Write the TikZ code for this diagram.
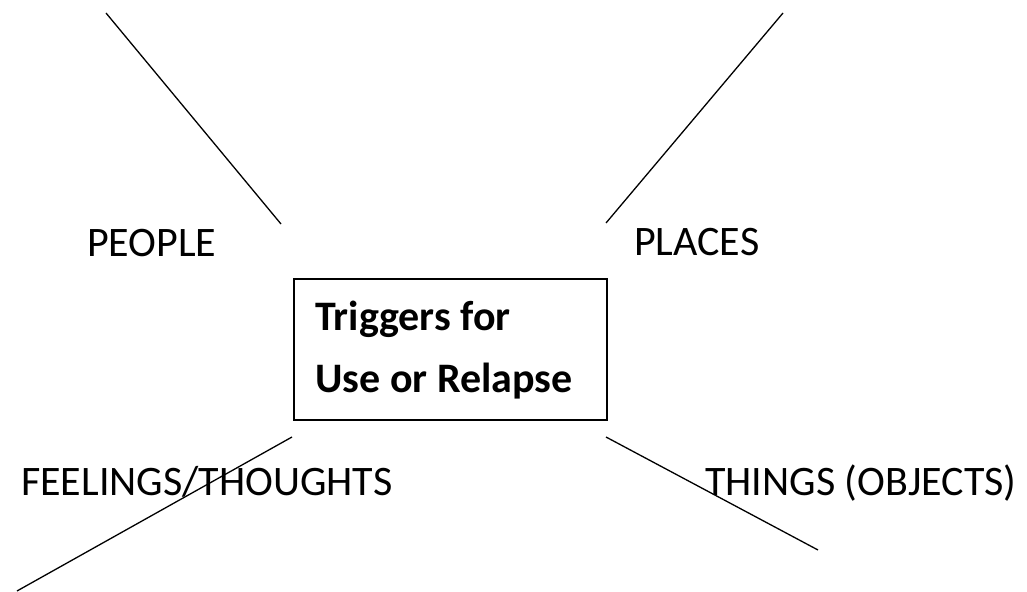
\documentclass[tikz,border=0pt]{standalone}
\usepackage{fontspec}
\setmainfont{Carlito}
\begin{document}
\begin{tikzpicture}[x=1bp,y=-1bp,
  lbl/.style={anchor=base west,inner sep=0pt,font=\fontsize{42bp}{50bp}\selectfont},
  ttl/.style={lbl,font=\fontsize{42bp}{50bp}\selectfont\bfseries},
  ray/.style={line width=1.3bp,black},
  boxstyle/.style={draw,line width=1.6bp,anchor=north west,minimum width=313bp,minimum height=141bp,inner sep=0pt}]
\useasboundingbox (0,0) rectangle (1027,592);
% central box
\node[boxstyle] (box) at (293,278) {};
\node[ttl] (t1) at (315,330) {Triggers for};
\node[ttl] (t2) at (315,392) {Use or Relapse};
% labels
\node[lbl] (people) at (87,257) {PEOPLE};
\node[lbl] (places) at (634,256) {PLACES};
\node[lbl] (feel) at (21,495) {FEELINGS/THOUGHTS};
\node[lbl] (things) at (705,495) {THINGS (OBJECTS)};
% rays
\coordinate (a1) at (106,13);
\coordinate (a2) at (281,224);
\coordinate (b1) at (783,13);
\coordinate (b2) at (606,223);
\coordinate (c1) at (292,437);
\coordinate (c2) at (17,591);
\coordinate (d1) at (606,437);
\coordinate (d2) at (818,550);
\draw[ray] (a1) -- (a2);
\draw[ray] (b1) -- (b2);
\draw[ray] (c1) -- (c2);
\draw[ray] (d1) -- (d2);
\end{tikzpicture}
\end{document}
